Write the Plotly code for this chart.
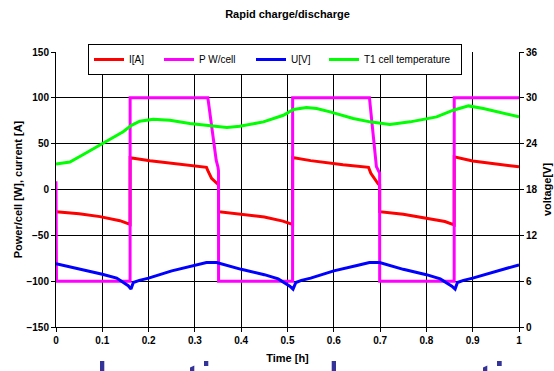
import plotly.graph_objects as go

# ---- data ----
# Current I[A]
t_I = [0.0, 0.05, 0.095, 0.138, 0.16,
       0.1601, 0.203, 0.275, 0.325, 0.329, 0.336, 0.349, 0.351,
       0.3511, 0.40, 0.45, 0.49, 0.511,
       0.5111, 0.55, 0.62, 0.675, 0.680, 0.688, 0.696, 0.699,
       0.6991, 0.75, 0.80, 0.84, 0.860,
       0.8601, 0.90, 0.95, 1.0]
I_A = [-24.2, -26.5, -29.6, -34.0, -38.0,
       34.6, 31.4, 26.7, 24.2, 19.4, 12.2, 6.0, 5.0,
       -24.2, -26.8, -30.0, -34.5, -38.0,
       35.0, 31.5, 27.0, 24.2, 17.6, 11.5, 6.0, 5.0,
       -24.2, -27.0, -31.0, -35.0, -38.6,
       35.7, 31.0, 27.5, 24.8]

# Power P W/cell
t_P = [0.0, 0.001, 0.16, 0.1601, 0.328, 0.346, 0.350, 0.351,
       0.3511, 0.511, 0.5111, 0.677, 0.692, 0.698, 0.699,
       0.6991, 0.860, 0.8601, 1.0]
P_W = [9, -100, -100, 100, 100, 32, 24, 20,
       -100, -100, 100, 100, 25, 20, 18,
       -100, -100, 100, 100]

# Voltage U[V] (right axis)
t_U = [0.0, 0.05, 0.10, 0.131, 0.156, 0.162, 0.167, 0.18, 0.20, 0.25, 0.30, 0.325, 0.347,
       0.40, 0.45, 0.48, 0.505, 0.512, 0.518, 0.53, 0.55, 0.60, 0.65, 0.677, 0.699,
       0.75, 0.80, 0.83, 0.855, 0.862, 0.867, 0.88, 0.90, 0.95, 1.0]
U_V = [8.27, 7.6, 6.9, 6.4, 5.4, 4.96, 5.83, 6.1, 6.4, 7.35, 8.05, 8.44, 8.44,
       7.55, 6.85, 6.3, 5.35, 4.96, 5.83, 6.1, 6.4, 7.35, 8.05, 8.44, 8.44,
       7.55, 6.85, 6.3, 5.35, 4.96, 5.83, 6.1, 6.4, 7.3, 8.14]

# T1 cell temperature
t_T = [0.0, 0.03, 0.06, 0.099, 0.145, 0.163, 0.181, 0.21, 0.246, 0.289, 0.333, 0.369,
       0.397, 0.448, 0.491, 0.513, 0.541, 0.563, 0.592, 0.642, 0.678, 0.700, 0.721,
       0.765, 0.822, 0.858, 0.891, 0.923, 0.966, 1.0]
T1 = [27.8, 30.0, 38.5, 49.5, 63.0, 70.0, 74.5, 76.7, 75.6, 72.0, 69.4, 67.7,
      69.0, 73.8, 81.0, 87.3, 89.5, 88.4, 84.7, 77.5, 73.8, 72.0, 71.0,
      73.8, 79.2, 86.5, 91.2, 88.4, 83.6, 79.2]

title_text = "Rapid charge/discharge"
x_title = "Time [h]"
y_title = "Power/cell [W], current [A]"
y2_title = "voltage[V]"

FONT = "Liberation Sans, Arial, sans-serif"

fig = go.Figure()
fig.add_trace(go.Scatter(x=t_I, y=I_A, name="I[A]", mode="lines", legendwidth=25,
                         line=dict(color="#FF0000", width=3)))
fig.add_trace(go.Scatter(x=t_P, y=P_W, name="P W/cell", mode="lines", legendwidth=47,
                         line=dict(color="#FF00FF", width=3)))
fig.add_trace(go.Scatter(x=t_U, y=U_V, name="U[V]", mode="lines", yaxis="y2",
                         legendwidth=28, line=dict(color="#0000FF", width=3)))
fig.add_trace(go.Scatter(x=t_T, y=T1, name="T1 cell temperature", mode="lines",
                         legendwidth=92, line=dict(color="#00FF00", width=3)))

# stray navy marks below the axis in the reference
W, H = 463.0, 275.0
def px(x):
    return (x - 56) / W
def py(y):
    return (327 - y) / H
navy = "#333399"
shapes = []
for (x0, x1, y0, y1) in [(100, 104.3, 361, 371), (204, 208.3, 361, 366),
                         (331.7, 336, 361, 371), (497, 501.7, 361, 366)]:
    shapes.append(dict(type="rect", xref="paper", yref="paper",
                       x0=px(x0), x1=px(x1), y0=py(y1), y1=py(y0),
                       fillcolor=navy, line=dict(width=0), layer="above"))
for (x0, x1) in [(190, 194.3), (483, 487.3)]:
    path = "M{},{} L{},{} L{},{} L{},{} Z".format(
        px(x0), py(371), px(x0), py(367.5), px(x1), py(365.5), px(x1), py(371))
    shapes.append(dict(type="path", xref="paper", yref="paper", path=path,
                       fillcolor=navy, line=dict(width=0), layer="above"))

tickfont = dict(family=FONT, size=10, color="black", weight="bold")
titlefont = dict(family=FONT, size=11, color="black", weight="bold")
fig.update_layout(
    width=554, height=371,
    margin=dict(l=56, r=35, t=52, b=44),
    paper_bgcolor="white", plot_bgcolor="white",
    font=dict(family=FONT, color="black"),
    title=dict(text=title_text, x=0.5, xref="paper", y=(371 - 14) / 371,
               yref="container", yanchor="middle", font=titlefont),
    xaxis=dict(range=[0, 1], dtick=0.1, tick0=0, showgrid=True, gridcolor="black",
               gridwidth=1, zeroline=False, showline=True, linecolor="black",
               linewidth=1, ticks="outside", ticklen=4, tickcolor="black",
               tickfont=tickfont, automargin=False,
               title=dict(text=x_title, standoff=9, font=titlefont)),
    yaxis=dict(range=[-150, 150], dtick=50, tick0=0, showgrid=True, gridcolor="black",
               gridwidth=1, zeroline=False, showline=True, linecolor="black",
               linewidth=1, ticks="outside", ticklen=4, tickcolor="black",
               tickfont=tickfont, automargin=False,
               title=dict(text=y_title, standoff=1, font=titlefont)),
    yaxis2=dict(range=[0, 36], dtick=6, tick0=0, overlaying="y", side="right",
                showgrid=False, zeroline=False, showline=True, linecolor="black",
                linewidth=1, ticks="outside", ticklen=4, tickcolor="black",
                tickfont=tickfont, automargin=False,
                title=dict(text=y2_title, standoff=6, font=titlefont)),
    showlegend=True,
    legend=dict(orientation="h", x=(88 - 56) / W, xanchor="left",
                y=(327 - 44) / H, yanchor="top", bgcolor="white",
                bordercolor="black", borderwidth=1,
                font=dict(family=FONT, size=10, color="black"),
                itemwidth=30, tracegroupgap=0),
    shapes=shapes,
)

fig.write_html("out.html")
